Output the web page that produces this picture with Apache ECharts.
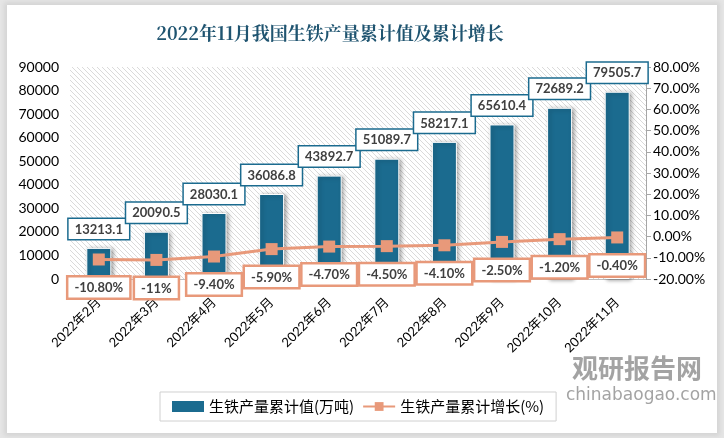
<!DOCTYPE html>
<html><head><meta charset="utf-8">
<script src="https://cdn.jsdelivr.net/npm/echarts@6/dist/echarts.min.js"></script>
<style>
html,body{margin:0;padding:0;background:#e6e6e6;}
#wrap{position:absolute;left:7px;top:5px;width:710px;height:428px;background:#fff;box-shadow:0 0 5px 3px #d4d4d4;}
#c{position:absolute;left:-7px;top:-5px;width:724px;height:438px;}
</style></head>
<body><div id="wrap"><div id="c"></div></div>
<script>
const categories = ['2022年2月','2022年3月','2022年4月','2022年5月','2022年6月','2022年7月','2022年8月','2022年9月','2022年10月','2022年11月'];
const outputValues = [13213.1,20090.5,28030.1,36086.8,43892.7,51089.7,58217.1,65610.4,72689.2,79505.7];
const growthValues = [-10.8,-11,-9.4,-5.9,-4.7,-4.5,-4.1,-2.5,-1.2,-0.4];
const growthLabels = ['-10.80%','-11%','-9.40%','-5.90%','-4.70%','-4.50%','-4.10%','-2.50%','-1.20%','-0.40%'];

const pc = document.createElement('canvas');
pc.width = 5; pc.height = 5;
const g = pc.getContext('2d');
g.fillStyle = '#fff'; g.fillRect(0,0,5,5);
g.strokeStyle = '#dadada'; g.lineWidth = 1;
g.beginPath(); g.moveTo(0,0); g.lineTo(5,5); g.moveTo(-5,0); g.lineTo(0,5); g.moveTo(0,-5); g.lineTo(5,0); g.stroke();

const chart = echarts.init(document.getElementById('c'));
const font = '"Lato","Noto Sans CJK SC",sans-serif';
chart.setOption({
  animation:false,
  title:{text:'2022年11月我国生铁产量累计值及累计增长',left:325,textAlign:'center',top:19,
    textStyle:{fontFamily:'"Noto Serif CJK SC","DejaVu Serif","Liberation Serif",serif',fontSize:18,fontWeight:'bold',color:'#1F5470'}},
  grid:{left:70,right:78,top:67,bottom:159,show:true,borderWidth:0,backgroundColor:{image:pc,repeat:'repeat'}},
  legend:{bottom:17,left:160,itemGap:8,padding:[7,12],borderColor:'#d0d0d0',borderWidth:1,
    textStyle:{fontFamily:'"Noto Sans CJK SC",sans-serif',fontSize:15,color:'#000'},
    data:[{name:'生铁产量累计值(万吨)',icon:'rect',itemStyle:{borderWidth:0}},{name:'生铁产量累计增长(%)'}],
    itemWidth:32,itemHeight:11},
  xAxis:{type:'category',data:categories,
    axisLine:{lineStyle:{color:'#bfbfbf'}},axisTick:{show:false},
    axisLabel:{rotate:45,color:'#000',fontFamily:font,fontSize:13,interval:0,margin:21}},
  yAxis:[
    {type:'value',min:0,max:90000,interval:10000,splitLine:{show:false},axisLine:{show:false},axisTick:{show:false},
     axisLabel:{color:'#000',fontFamily:font,fontSize:14,margin:11,formatter:v=>String(v)}},
    {type:'value',min:-20,max:80,interval:10,splitLine:{show:false},
     axisLine:{show:true,lineStyle:{color:'#a6a6a6'}},axisTick:{show:true,lineStyle:{color:'#a6a6a6'},length:5},
     axisLabel:{color:'#000',fontFamily:font,fontSize:14,margin:7,formatter:v=>v.toFixed(2)+'%'}}
  ],
  series:[
    {name:'生铁产量累计值(万吨)',type:'bar',data:outputValues,barWidth:25,
     itemStyle:{color:'#1B6B8F',borderColor:'#fff',borderWidth:1,shadowColor:'rgba(0,0,0,0.35)',shadowBlur:4,shadowOffsetX:2,shadowOffsetY:1},
     label:{show:true,position:'top',distance:9,color:'#404040',fontFamily:font,fontSize:13,fontWeight:'bold',
       backgroundColor:'#fff',borderColor:'#1B6B8F',borderWidth:1.5,padding:[4,6,3,6]}},
    {name:'生铁产量累计增长(%)',type:'line',yAxisIndex:1,data:growthValues,
     lineStyle:{color:'#E8997A',width:3},itemStyle:{color:'#E8997A'},symbol:'rect',symbolSize:12,
     label:{show:true,position:'bottom',distance:12,color:'#404040',fontFamily:font,fontSize:13,fontWeight:'bold',
       backgroundColor:'#fff',borderColor:'#E8997A',borderWidth:2.5,padding:[4,6,3,6],
       formatter:p=>growthLabels[p.dataIndex]}}
  ],
  graphic:[
    {type:'text',left:572,top:355,style:{text:'观研报告网',fill:'rgba(140,140,140,0.8)',font:'bold 26px "Noto Sans CJK SC",sans-serif'}},
    {type:'text',left:566,top:387,style:{text:'chinabaogao.com',fill:'rgba(140,140,140,0.8)',font:'17px "DejaVu Sans",sans-serif'}}
  ]
});
</script></body></html>
